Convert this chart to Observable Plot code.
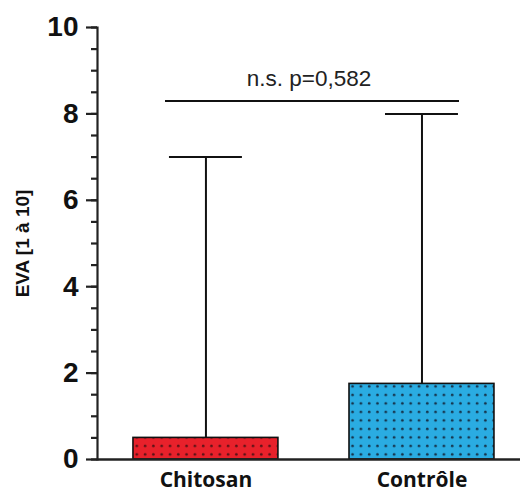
<!DOCTYPE html>
<html>
<head>
<meta charset="utf-8">
<script src="https://cdn.jsdelivr.net/npm/d3@7"></script>
<script src="https://cdn.jsdelivr.net/npm/@observablehq/plot@0.6"></script>
<style>
  html, body { margin: 0; padding: 0; background: #fff; }
</style>
</head>
<body>
<div id="chart"></div>
<script>
const groups = ["Chitosan", "Contrôle"];
const medians = [0.5, 1.75];
const maxima = [7, 8];
const barColors = ["#e8212b", "#2aace2"];
const dotColors = ["#5a1216", "#16344c"];
const yTicks = [0, 2, 4, 6, 8, 10];
const yMinorTicks = [0, 0.5, 1, 1.5, 2, 2.5, 3, 3.5, 4, 4.5, 5, 5.5, 6, 6.5, 7, 7.5, 8, 8.5, 9, 9.5, 10];
const sigLevel = 8.3;
const sigText = "n.s. p=0,582";
const yLabel = "EVA [1 à 10]";

const data = groups.map((g, i) => ({
  group: g,
  median: medians[i],
  max: maxima[i],
  pattern: `url(#dots${i})`
}));

const svg = Plot.plot({
  width: 531,
  height: 492,
  marginLeft: 97,
  marginRight: 11,
  marginTop: 27,
  marginBottom: 33,
  style: { background: "#fff", color: "#000", overflow: "visible" },
  x: { type: "band", domain: groups, paddingInner: 0.329, paddingOuter: 0.1435, align: 0.58, round: false, axis: null, label: null },
  y: { domain: [0, 10], axis: null, label: null },
  color: { type: "identity" },
  marks: [
    Plot.barY(data, { x: "group", y: "median", fill: "pattern", stroke: "#111", strokeWidth: 1.6 }),
    Plot.ruleX(data, { x: "group", y1: "median", y2: "max", stroke: "#111", strokeWidth: 2 }),
    Plot.tickY(data, { x: "group", y: "max", insetLeft: 36, insetRight: 36, stroke: "#111", strokeWidth: 2 }),
    Plot.axisY(yMinorTicks, { tickSize: 6, text: null, label: null, strokeWidth: 2.2, stroke: "#222" }),
    Plot.axisY(yTicks, { tickSize: 11, tickPadding: 8, label: null, strokeWidth: 2.2, stroke: "#222", fontSize: 28, fontWeight: "bold", fontFamily: "Liberation Sans, Arial, sans-serif", fill: "#111" }),
    Plot.axisX(groups, { tickSize: 0, tickPadding: 13, label: null, fontSize: 21, fontWeight: "bold", fontFamily: "Open Sans, sans-serif", fill: "#111" }),
    Plot.ruleY([0], { stroke: "#222", strokeWidth: 2.5 }),
    Plot.frame({ anchor: "left", stroke: "#222", strokeWidth: 2.2 }),
    Plot.ruleY([sigLevel], { insetLeft: 68, insetRight: 61, stroke: "#111", strokeWidth: 2 }),
    Plot.text([sigText], { y: () => sigLevel, text: d => d, dx: 0, dy: -22, fontSize: 22.5, fontFamily: "Liberation Sans, Arial, sans-serif", fill: "#222" }),
    Plot.text([yLabel], { frameAnchor: "left", textAnchor: "middle", text: d => d, dx: -75, dy: 0, rotate: -90, fontSize: 19, fontWeight: "bold", fontFamily: "Liberation Sans, Arial, sans-serif", fill: "#111" })
  ]
});

const defs = d3.select(svg).insert("defs", ":first-child");
barColors.forEach((c, i) => {
  const p = defs.append("pattern")
    .attr("id", `dots${i}`)
    .attr("patternUnits", "userSpaceOnUse")
    .attr("width", 8.3)
    .attr("height", 8.5);
  p.append("rect").attr("width", 8.3).attr("height", 8.5).attr("fill", c);
  p.append("circle").attr("cx", 4).attr("cy", 4).attr("r", 1.3).attr("fill", dotColors[i]);
});

document.getElementById("chart").appendChild(svg);
</script>
</body>
</html>
